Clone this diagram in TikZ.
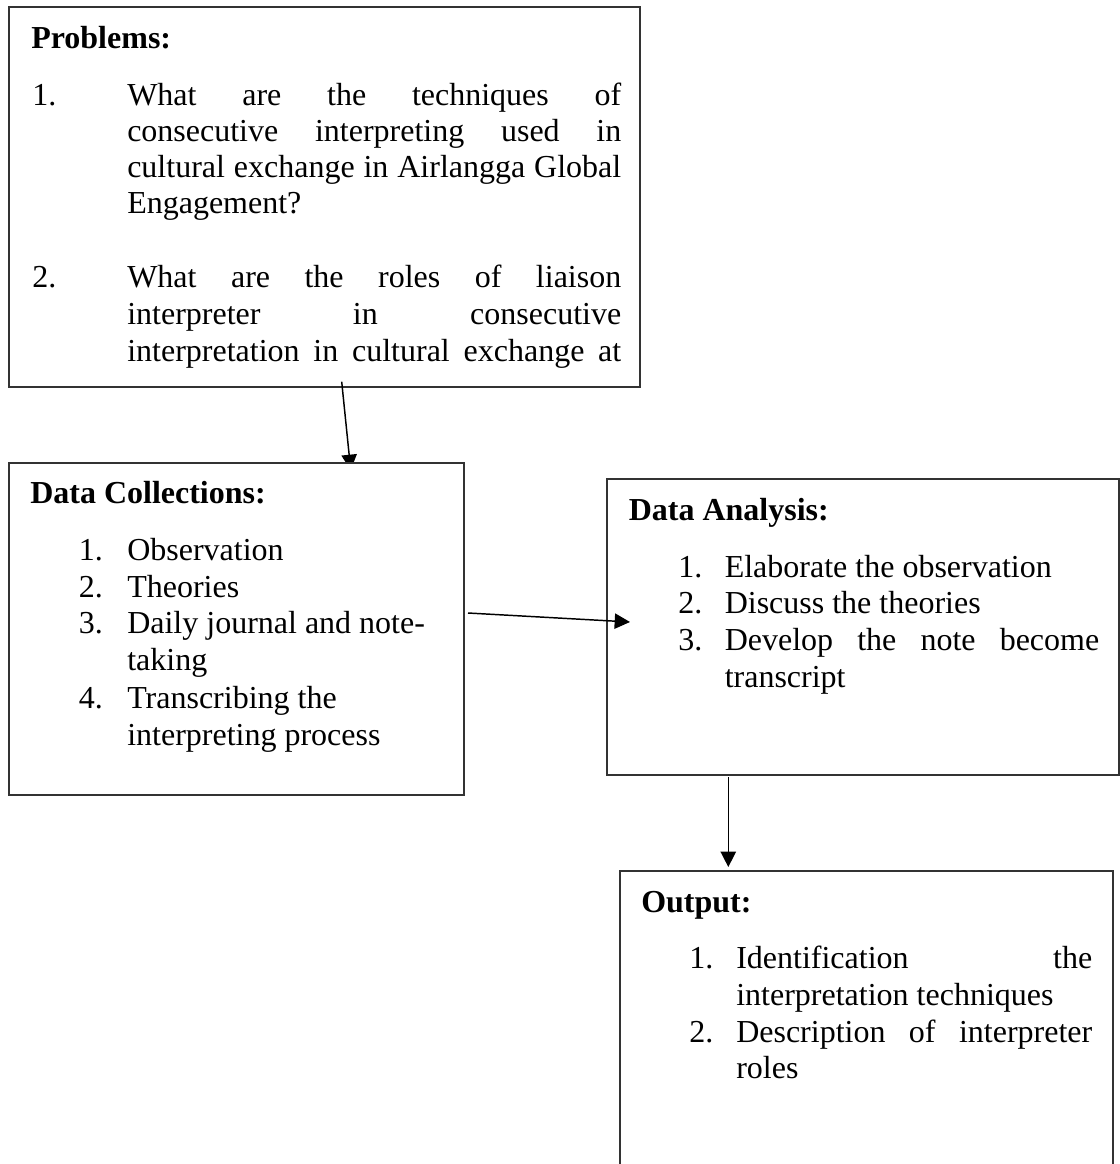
\documentclass[tikz,border=0pt]{standalone}
\usepackage{fontspec}
\setmainfont{Liberation Serif}
\usetikzlibrary{arrows.meta,fit}
\newdimen\pxu \pxu=0.75pt
\newcommand{\jline}[2]{\makebox[#1\pxu][s]{#2}}
\begin{document}
\begin{tikzpicture}[x=0.75pt,y=-0.75pt,
  box/.style={draw=black!80, line width=1.3pt, inner sep=0pt, fill=white},
  txt/.style={anchor=base west, inner sep=0pt, font=\fontsize{24pt}{28pt}\selectfont},
  hd/.style={anchor=base west, inner sep=0pt, font=\fontsize{24pt}{28pt}\selectfont\bfseries},
  arr/.style={line width=1.1pt, -{Triangle[length=11.5pt,width=11.5pt]}}]
\useasboundingbox (0,0) rectangle (1120,1164);
\clip (0,0) rectangle (1120,1164);
\fill[white] (0,0) rectangle (1120,1164);

% boxes below the connectors
\node[box, fit={(9,7) (640,387)}] (prob) {};
\node[box, fit={(607,479) (1119,775)}] (ana) {};
\node[box, fit={(620,871) (1113,1200)}] (out) {};

% connector ends
\coordinate (a1s) at (341.7,381.7);
\coordinate (a1e) at (350.7,470);
\coordinate (a2s) at (468,613);
\coordinate (a2e) at (630,622);
\coordinate (a3s) at (728.3,777);
\coordinate (a3e) at (728.3,867);

\draw[arr] (a1s) -- (a1e);
\draw[arr] (a2s) -- (a2e);
\draw[arr] (a3s) -- (a3e);

% Data Collections box drawn over the first arrow head
\node[box, fit={(9,463) (464,795)}] (coll) {};

% Problems text
\node[hd] (pt) at (31,48) {Problems:};
\node[txt] (pn1) at (32,105) {1.};
\node[txt] (p11) at (127,105) {\jline{494}{What are the techniques of}};
\node[txt] (p12) at (127,141.5) {\jline{494}{consecutive interpreting used in}};
\node[txt] (p13) at (127,177.5) {\jline{494}{cultural exchange in Airlangga Global}};
\node[txt] (p14) at (127,213.5) {Engagement?};
\node[txt] (pn2) at (32,287) {2.};
\node[txt] (p21) at (127,287) {\jline{494}{What are the roles of liaison}};
\node[txt] (p22) at (127,324) {\jline{494}{interpreter in consecutive}};
\node[txt] (p23) at (127,361) {\jline{494}{interpretation in cultural exchange at}};

% Data Collections text
\node[hd] (ct) at (30,503) {Data Collections:};
\node[txt] (cn1) at (78.5,560) {1.};
\node[txt] (c1) at (127,560) {Observation};
\node[txt] (cn2) at (78.5,597) {2.};
\node[txt] (c2) at (127,597) {Theories};
\node[txt] (cn3) at (78.5,633.5) {3.};
\node[txt] (c3a) at (127,633.5) {Daily journal and note-};
\node[txt] (c3b) at (127,670) {taking};
\node[txt] (cn4) at (78.5,708) {4.};
\node[txt] (c4a) at (127,708) {Transcribing the};
\node[txt] (c4b) at (127,745) {interpreting process};

% Data Analysis text
\node[hd] (at) at (628.5,520) {Data Analysis:};
\node[txt] (an1) at (678,577) {1.};
\node[txt] (a1) at (724.5,577) {Elaborate the observation};
\node[txt] (an2) at (678,613.5) {2.};
\node[txt] (a2) at (724.5,613.5) {Discuss the theories};
\node[txt] (an3) at (678,650.5) {3.};
\node[txt] (a3a) at (724.5,650.5) {\jline{374.5}{Develop the note become}};
\node[txt] (a3b) at (724.5,687) {transcript};

% Output text
\node[hd] (ot) at (641,912) {Output:};
\node[txt] (on1) at (689,968) {1.};
\node[txt] (o1a) at (736,968) {\jline{356}{Identification the}};
\node[txt] (o1b) at (736,1005) {interpretation techniques};
\node[txt] (on2) at (689,1042) {2.};
\node[txt] (o2a) at (736,1042) {\jline{356}{Description of interpreter}};
\node[txt] (o2b) at (736,1078) {roles};
\end{tikzpicture}
\end{document}
